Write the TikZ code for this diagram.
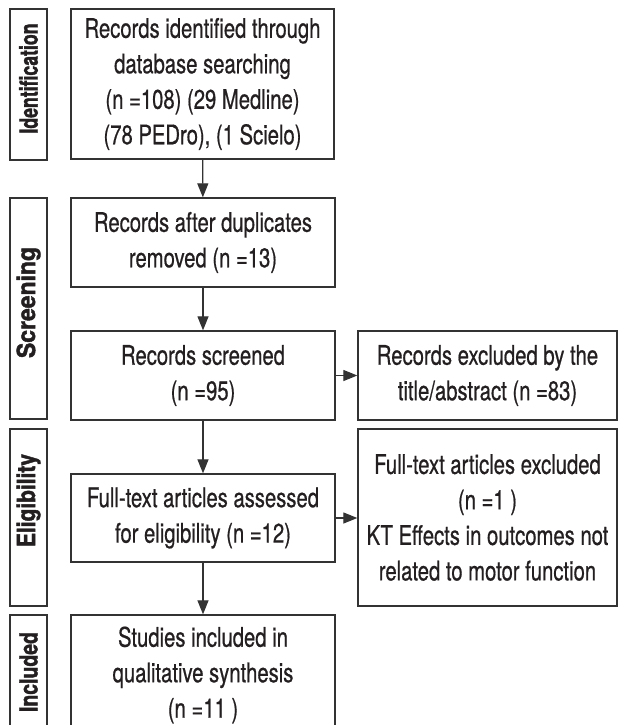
\documentclass[tikz,border=0pt]{standalone}
\usepackage{graphicx}
\usepackage{fontspec}
\setmainfont{TeX Gyre Heros}[FakeStretch=0.75,
	UprightFeatures={FakeBold=0.6},
	BoldFeatures={FakeStretch=0.72,FakeBold=1.4}]
\usetikzlibrary{arrows.meta,positioning}
\definecolor{linegray}{HTML}{333333}
\definecolor{textgray}{HTML}{231F20}

% phase label text: lead space (pushes text up), width of the word
\newcommand{\phasetxt}[3]{\hspace*{#1}\resizebox{#2}{\height}{#3}}

\tikzset{
	stage/.style={draw=linegray, line width=1.3pt, inner sep=0pt, align=center,
		text=textgray, font=\fontsize{27}{35.5}\selectfont},
	phase/.style={draw=linegray, line width=1.3pt, inner sep=0pt, rotate=90,
		minimum height=37pt, text=textgray, font=\bfseries\fontsize{25}{25}\selectfont},
	flow/.style={-{Triangle[length=14pt,width=11pt]}, line width=1.2pt, draw=linegray},
}

\begin{document}
\begin{tikzpicture}[x=1pt,y=-1pt]
	\clip (0,0) rectangle (619,725);
	% phase labels
	\node[phase, minimum width=151pt] (idlab) at (28.5,84.5) {\phasetxt{12pt}{110pt}{Identification}};
	\node[phase, minimum width=221pt] (scrlab) at (28.5,308.5) {\phasetxt{12pt}{111pt}{Screening}};
	\node[phase, minimum width=177pt] (elilab) at (28.5,517.5) {\phasetxt{34pt}{93pt}{Eligibility}};
	\node[phase, minimum width=120pt] (inclab) at (28.5,675) {\phasetxt{6pt}{80pt}{Included}};
	% main column
	\node[stage, minimum width=263pt, minimum height=150pt] (ident) at (202.5,84)
		{Records identified through\\database searching\\(n =108) (29 Medline)\\(78 PEDro), (1 Scielo)};
	\node[stage, minimum width=264pt, minimum height=89pt] (dupl) at (203,242.5)
		{Records after duplicates\\removed (n =13)};
	\node[stage, minimum width=264pt, minimum height=89pt] (screen) at (203,375.5)
		{Records screened\\(n =95)};
	\node[stage, minimum width=264pt, minimum height=88pt] (full) at (203,518)
		{Full-text articles assessed\\for eligibility (n =12)};
	\node[stage, minimum width=264pt, minimum height=120pt] (incl) at (203,675)
		{Studies included in\\qualitative synthesis\\(n =11 )};
	% exclusions
	\node[stage, minimum width=259pt, minimum height=89pt] (title) at (487.5,375.5)
		{Records excluded by the\\title/abstract (n =83)};
	\node[stage, minimum width=259pt, minimum height=177pt] (fullexcl) at (487.5,517.5)
		{Full-text articles excluded\\(n =1 )\\KT Effects in outcomes not\\related to motor function};
	% connectors
	\draw[flow] (ident) -- (dupl);
	\draw[flow] (dupl) -- (screen);
	\draw[flow] (screen) -- (title);
	\draw[flow] (screen) -- (full);
	\draw[flow] (full.east) -- (full.east -| fullexcl.west);
	\draw[flow] (full) -- (incl);
\end{tikzpicture}
\end{document}
